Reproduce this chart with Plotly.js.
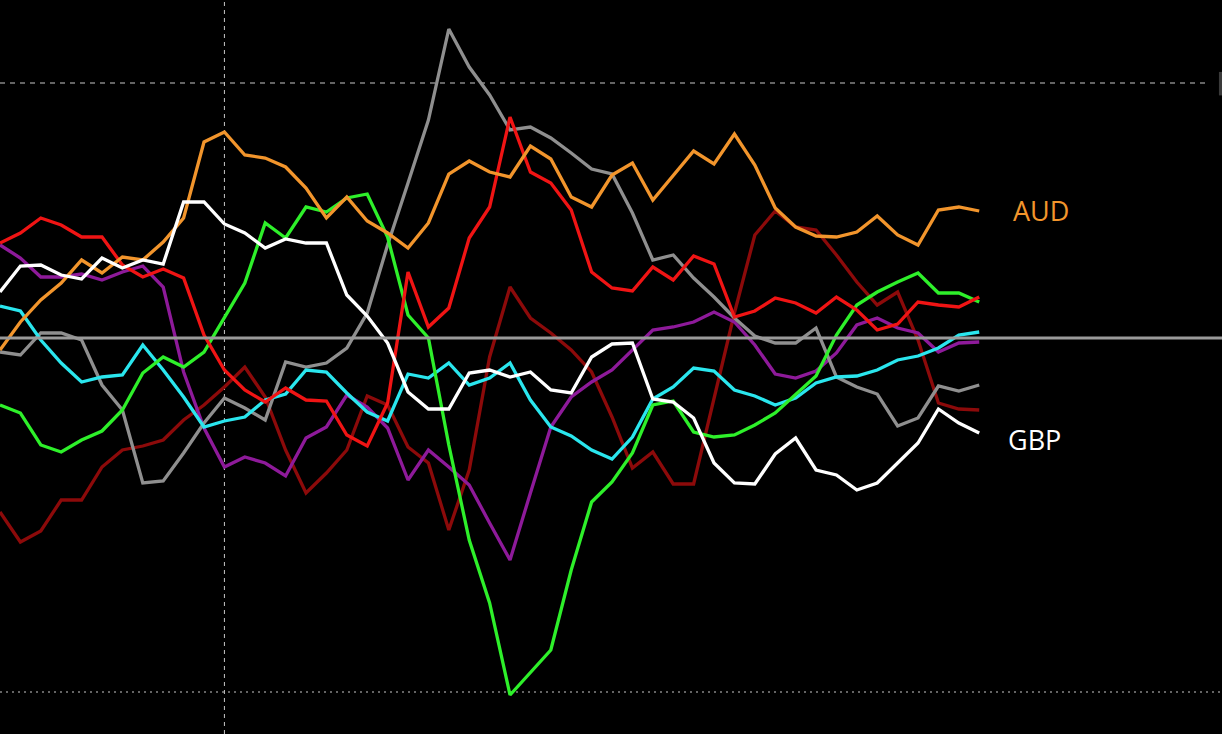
<!DOCTYPE html>
<html>
<head>
<meta charset="utf-8">
<script src="https://cdn.plot.ly/plotly-3.0.1.min.js"></script>
<style>
  html, body { margin: 0; padding: 0; background: #000; }
  #graph { width: 1222px; height: 734px; }
</style>
</head>
<body>
<div id="graph"></div>
<script>
// one point per period, 49 periods
const periods = Array.from({length: 49}, (_, i) => i);

const aud = [-1.2,1.6,3.8,5.5,7.8,6.5,8.1,7.8,9.6,12.0, 19.6,20.6,18.3,18.0,17.1,15.0,12.0,14.1,11.7,10.5,
  9.0,11.5,16.4,17.7,16.6,16.1,19.2,17.9,14.1,13.1, 16.3,17.5,13.8,16.3,18.7,17.4,20.4,17.3,13.0,11.1,
  10.2,10.1,10.6,12.2,10.3,9.3,12.8,13.1,12.7];
const gbp = [4.6,7.2,7.3,6.3,5.9,8.0,7.0,7.8,7.4,13.6, 13.6,11.4,10.5,9.0,9.9,9.5,9.5,4.3,2.2,-0.5,
  -5.4,-7.1,-7.1,-3.5,-3.2,-3.9,-3.4,-5.2,-5.5,-1.9, -0.6,-0.5,-6.1,-6.4,-8.0,-12.5,-14.5,-14.6,-11.6,-10.0,
  -13.2,-13.7,-15.2,-14.5,-12.5,-10.5,-7.1,-8.5,-9.5];
const green = [-6.7,-7.5,-10.7,-11.4,-10.2,-9.3,-7.2,-3.5,-1.9,-2.9, -1.4,2.0,5.5,11.5,10.0,13.1,12.6,14.0,14.4,10.1,
  2.3,0.0,-10.7,-20.2,-26.5,-35.7,-33.5,-31.2,-23.2,-16.4, -14.4,-11.5,-6.7,-6.3,-9.4,-9.9,-9.7,-8.7,-7.5,-5.7,
  -3.8,0.3,3.3,4.6,5.6,6.5,4.5,4.5,3.6];
const red = [9.5,10.5,12.0,11.3,10.1,10.1,7.3,6.1,6.9,6.0, 0.3,-3.2,-5.2,-6.4,-5.0,-6.2,-6.3,-9.7,-10.8,-6.5,
  6.6,1.1,3.0,10.0,13.1,22.1,16.6,15.5,12.8,6.6, 5.0,4.7,7.1,5.8,8.2,7.4,2.1,2.7,4.0,3.5,
  2.5,4.1,2.8,0.8,1.4,3.6,3.3,3.1,4.1];
const maroon = [-17.4,-20.4,-19.3,-16.2,-16.2,-12.9,-11.2,-10.8,-10.2,-8.2, -6.7,-4.9,-2.9,-5.9,-11.2,-15.5,-13.5,-11.2,-5.8,-6.7,
  -10.9,-12.5,-19.2,-13.2,-1.9,5.1,2.0,0.5,-1.2,-3.4, -7.9,-13.0,-11.4,-14.6,-14.6,-5.9,2.5,10.3,12.7,11.1,
  10.8,8.3,5.6,3.3,4.6,-0.2,-6.5,-7.1,-7.2];
const gray = [-1.4,-1.7,0.5,0.5,-0.2,-4.7,-7.2,-14.5,-14.3,-11.5, -8.5,-6.0,-7.0,-8.2,-2.4,-2.9,-2.5,-1.0,2.5,9.3,
  15.5,21.8,30.9,27.1,24.3,20.8,21.1,20.0,18.5,16.9, 16.4,12.5,7.8,8.3,6.0,4.1,2.0,0.2,-0.5,-0.5,
  1.0,-3.9,-4.9,-5.6,-8.8,-8.0,-4.8,-5.3,-4.7];
const cyan = [3.2,2.7,-0.2,-2.5,-4.4,-3.9,-3.7,-0.7,-3.2,-5.9, -8.9,-8.3,-7.9,-6.2,-5.6,-3.2,-3.4,-5.5,-7.4,-8.3,
  -3.6,-4.0,-2.5,-4.7,-4.0,-2.5,-6.2,-8.9,-9.8,-11.2, -12.1,-9.9,-6.1,-4.9,-3.0,-3.3,-5.2,-5.8,-6.7,-6.0,
  -4.5,-3.9,-3.8,-3.2,-2.2,-1.8,-1.0,0.3,0.6];
const purple = [9.3,8.0,6.1,6.1,6.4,5.8,6.6,7.2,5.1,-3.4, -9.0,-12.9,-11.9,-12.5,-13.8,-10.0,-8.9,-5.7,-6.9,-9.0,
  -14.2,-11.2,-12.9,-14.7,-18.5,-22.2,-15.5,-8.9,-5.9,-4.4, -3.2,-1.2,0.8,1.1,1.6,2.6,1.6,-0.7,-3.6,-4.0,
  -3.3,-1.5,1.3,2.0,1.0,0.5,-1.4,-0.5,-0.4];

const gridTop = 25.5;
const gridBottom = -35.4;
const markerPeriod = 11;

function line(y, color) {
  return {
    x: periods,
    y: y,
    mode: 'lines',
    type: 'scatter',
    line: {color: color, width: 3.3},
    hoverinfo: 'skip'
  };
}

var data = [
  line(maroon, '#8c0a0a'),
  line(purple, '#8e1a9a'),
  line(gray, '#8f8f8f'),
  line(cyan, '#2ae6ee'),
  line(green, '#2ef02a'),
  line(red, '#f01414'),
  line(aud, '#f2952c'),
  line(gbp, '#ffffff')
];

const last = periods.length - 1;

const layout = {
  width: 1222,
  height: 734,
  margin: {l: 0, r: 0, t: 0, b: 0},
  paper_bgcolor: '#000',
  plot_bgcolor: '#000',
  showlegend: false,
  xaxis: {
    range: [0, 59.9],
    showgrid: false,
    zeroline: false,
    showticklabels: false,
    ticks: ''
  },
  yaxis: {
    range: [-39.6, 33.8],
    showgrid: false,
    zeroline: false,
    showticklabels: false,
    ticks: ''
  },
  shapes: [
    {type: 'line', xref: 'paper', yref: 'y', x0: 0, x1: 0.99, y0: gridTop, y1: gridTop,
     line: {color: '#c8c8c8', width: 1, dash: '5px,5px'}, layer: 'below'},
    {type: 'line', xref: 'paper', yref: 'y', x0: 0, x1: 1, y0: gridBottom, y1: gridBottom,
     line: {color: '#c8c8c8', width: 1, dash: '2px,4px'}, layer: 'below'},
    {type: 'line', xref: 'x', yref: 'paper', x0: markerPeriod, x1: markerPeriod, y0: 0, y1: 1,
     line: {color: '#c8c8c8', width: 1, dash: '4px,4px'}, layer: 'below'},
    {type: 'line', xref: 'paper', yref: 'y', x0: 0, x1: 1, y0: 0, y1: 0,
     line: {color: '#9a9a9a', width: 3}, layer: 'above'},
    {type: 'rect', xref: 'paper', yref: 'paper', x0: 0.9975, x1: 1, y0: 0.87, y1: 0.902,
     fillcolor: '#3a3a3a', line: {width: 0}}
  ],
  annotations: [
    {x: last, y: aud[last], xref: 'x', yref: 'y', text: 'AUD', showarrow: false,
     xanchor: 'left', xshift: 32, yshift: 1,
     font: {family: 'Open Sans, sans-serif', size: 27, color: '#f2952c'}},
    {x: last, y: gbp[last], xref: 'x', yref: 'y', text: 'GBP', showarrow: false,
     xanchor: 'left', xshift: 27, yshift: -6,
     font: {family: 'Open Sans, sans-serif', size: 27, color: '#ffffff'}}
  ]
};

Plotly.newPlot('graph', data, layout, {displayModeBar: false, staticPlot: true});
</script>
</body>
</html>
